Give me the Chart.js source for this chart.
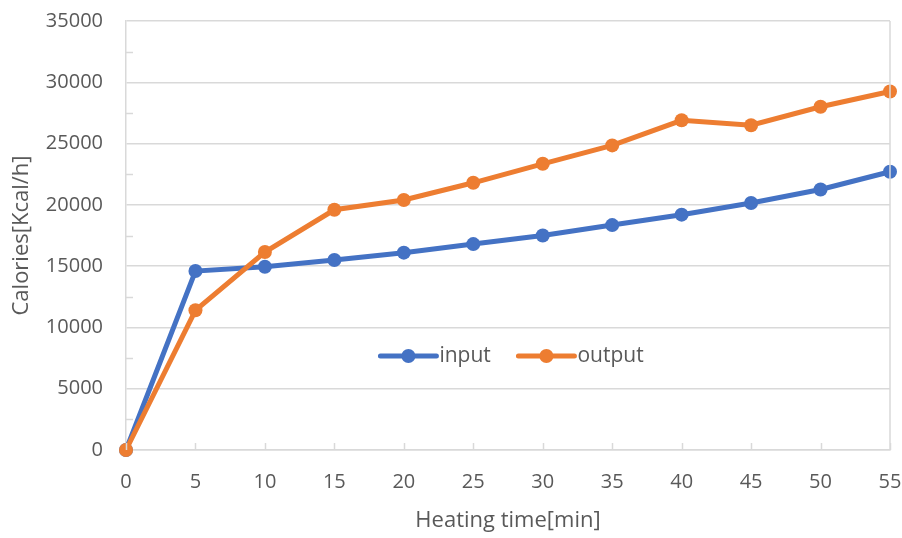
<!DOCTYPE html>
<html>
<head>
<meta charset="utf-8">
<title>Heating time vs calories</title>
<script src="https://cdn.jsdelivr.net/npm/chart.js@4/dist/chart.umd.min.js"></script>
<style>
  html, body { margin: 0; padding: 0; background: #ffffff; }
  #wrap { width: 902px; height: 538px; }
</style>
</head>
<body>
<div id="wrap"><canvas id="c" width="902" height="538"></canvas></div>
<script>
// Heating time in minutes and measured calories (Kcal/h)
const heatingTime = [0, 5, 10, 15, 20, 25, 30, 35, 40, 45, 50, 55];
const inputCal  = [0, 14600, 14950, 15500, 16100, 16800, 17500, 18350, 19200, 20150, 21250, 22700];
const outputCal = [0, 11400, 16150, 19600, 20400, 21800, 23350, 24850, 26900, 26500, 28000, 29250];
const seriesNames = ['input', 'output'];
const yMax = 35000;
const yStep = 5000;

const BLUE = '#4472C4';
const ORANGE = '#ED7D31';
const GRID = '#d9d9d9';
const TEXT = '#595959';
const FONT = '"Open Sans", "Noto Sans", sans-serif';

const toPoints = (vals) => heatingTime.map((t, i) => ({ x: t, y: vals[i] }));

// Inward tick marks, minor y ticks, right frame edge and an in-plot legend
const decorations = {
  id: 'decorations',
  afterDraw(chart) {
    const { ctx, chartArea: a, scales: { x, y } } = chart;
    ctx.save();
    ctx.strokeStyle = GRID;
    ctx.lineWidth = 1.5;
    ctx.beginPath();
    // major x ticks pointing up into the plot
    x.ticks.forEach(t => {
      const px = Math.round(x.getPixelForValue(t.value)) + 0.5;
      ctx.moveTo(px, a.bottom - 7);
      ctx.lineTo(px, a.bottom);
    });
    // minor y ticks halfway between gridlines
    for (let v = yStep / 2; v < yMax; v += yStep) {
      const py = Math.round(y.getPixelForValue(v)) + 0.5;
      ctx.moveTo(a.left, py);
      ctx.lineTo(a.left + 7, py);
    }
    // right edge of the plot frame
    ctx.moveTo(a.right, a.top);
    ctx.lineTo(a.right, a.bottom);
    ctx.stroke();

    // legend inside the plot
    const ly = a.top + (a.bottom - a.top) * 0.781;
    let lx = a.left + (a.right - a.left) * 0.333;
    ctx.font = '21px ' + FONT;
    ctx.textBaseline = 'middle';
    ctx.textAlign = 'left';
    chart.data.datasets.forEach((ds) => {
      ctx.strokeStyle = ds.borderColor;
      ctx.lineWidth = 5;
      ctx.lineCap = 'round';
      ctx.beginPath();
      ctx.moveTo(lx, ly);
      ctx.lineTo(lx + 56, ly);
      ctx.stroke();
      ctx.fillStyle = ds.borderColor;
      ctx.beginPath();
      ctx.arc(lx + 28, ly, 7, 0, Math.PI * 2);
      ctx.fill();
      ctx.fillStyle = TEXT;
      ctx.fillText(ds.label, lx + 59, ly);
      lx += 138;
    });
    ctx.restore();
  }
};

new Chart(document.getElementById('c'), {
  type: 'line',
  data: {
    datasets: [
      {
        label: seriesNames[0],
        data: toPoints(inputCal),
        borderColor: BLUE,
        backgroundColor: BLUE,
        pointBackgroundColor: BLUE,
        pointBorderColor: BLUE,
        borderWidth: 5,
        pointRadius: 7,
        pointBorderWidth: 0,
        tension: 0,
        clip: false,
        order: 1
      },
      {
        label: seriesNames[1],
        data: toPoints(outputCal),
        borderColor: ORANGE,
        backgroundColor: ORANGE,
        pointBackgroundColor: ORANGE,
        pointBorderColor: ORANGE,
        borderWidth: 5,
        pointRadius: 7,
        pointBorderWidth: 0,
        tension: 0,
        clip: false,
        order: 0
      }
    ]
  },
  options: {
    responsive: false,
    animation: false,
    devicePixelRatio: 1,
    layout: { autoPadding: false, padding: { top: 21, left: 0, right: 12, bottom: 0 } },
    plugins: {
      legend: { display: false },
      tooltip: { enabled: false }
    },
    scales: {
      x: {
        type: 'linear',
        min: 0,
        max: 55,
        afterFit(scale) {
          scale.height = 88;
          scale.paddingLeft = 0;
          scale.paddingRight = 0;
        },
        ticks: {
          stepSize: 5,
          color: TEXT,
          padding: 20,
          font: { family: FONT, size: 20 }
        },
        grid: { display: false, drawTicks: false },
        border: { display: true, color: GRID, width: 1.5 },
        title: {
          display: true,
          text: 'Heating time[min]',
          color: TEXT,
          font: { family: FONT, size: 22 },
          padding: { top: 0, bottom: 4 }
        }
      },
      y: {
        min: 0,
        max: yMax,
        afterFit(scale) {
          scale.width = 126;
          scale.paddingTop = 0;
          scale.paddingBottom = 0;
        },
        ticks: {
          stepSize: yStep,
          color: TEXT,
          padding: 23,
          font: { family: FONT, size: 20 },
          callback: (v) => String(v)
        },
        grid: { color: GRID, lineWidth: 1.5, drawTicks: false },
        border: { display: true, color: GRID, width: 1.5 },
        title: {
          display: true,
          text: 'Calories[Kcal/h]',
          color: TEXT,
          font: { family: FONT, size: 22 },
          padding: { top: 9, bottom: 0 }
        }
      }
    }
  },
  plugins: [decorations]
});
</script>
</body>
</html>
